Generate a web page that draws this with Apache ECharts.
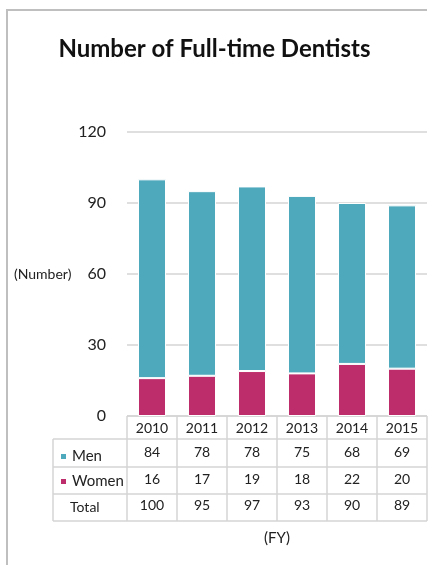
<!DOCTYPE html>
<html>
<head>
    <meta charset="utf-8">
    <title>Number of Full-time Dentists</title>
    <script src="https://cdn.jsdelivr.net/npm/echarts@6/dist/echarts.min.js"></script>
    <style type="text/css">
        html, body { margin: 0; padding: 0; background: #fff; overflow: hidden; }
        #main { width: 429px; height: 565px; }
    </style>
</head>
<body>
    <div id="main"></div>

    <script type="text/javascript">
        var years = ['2010', '2011', '2012', '2013', '2014', '2015'];
        var men = [84, 78, 78, 75, 68, 69];
        var women = [16, 17, 19, 18, 22, 20];
        var totals = [100, 95, 97, 93, 90, 89];
        var yTicks = [0, 30, 60, 90, 120];

        var font = 'Lato, "Open Sans", sans-serif';
        var lineColor = '#d4d4d4';

        var chart = echarts.init(document.getElementById('main'));

        // one row of the data table, drawn as an extra category axis under the grid
        function tableRow(values, offset) {
            return {
                type: 'category',
                data: values.map(String),
                position: 'bottom',
                offset: offset,
                axisLine: { show: false },
                axisTick: { show: false },
                splitLine: { show: false },
                axisLabel: { margin: 5, fontSize: 14, color: '#222', fontFamily: font }
            };
        }

        function line(x1, y1, x2, y2, color, w) {
            return { type: 'line', silent: true, shape: { x1: x1, y1: y1, x2: x2, y2: y2 }, style: { stroke: color, lineWidth: w } };
        }

        // table borders
        var tableLines = [];
        [439, 467, 494, 521].forEach(function (y) {
            tableLines.push(line(53, y, 427, y, lineColor, 1.5));
        });
        tableLines.push(line(127, 416, 427, 416, lineColor, 1.5));
        for (var i = 0; i <= years.length; i++) {
            var x = 127 + i * 50;
            tableLines.push(line(x, 416, x, 521, lineColor, 1.5));
        }
        tableLines.push(line(53, 439, 53, 521, lineColor, 1.5));

        var option = {
            animation: false,
            title: {
                text: 'Number of Full-time Dentists',
                left: 'center',
                top: 32,
                textStyle: { fontSize: 24, fontWeight: 'bold', color: '#111', fontFamily: font }
            },
            legend: {
                data: ['Men', 'Women'],
                orient: 'vertical',
                left: 54,
                top: 444,
                itemWidth: 7,
                itemHeight: 7,
                itemGap: 10,
                icon: 'rect',
                textStyle: { fontSize: 15, color: '#222', fontFamily: font }
            },
            grid: { left: 127, right: 2, top: 132, bottom: 149 },
            xAxis: [
                {
                    type: 'category',
                    data: years,
                    axisLine: { show: false },
                    axisTick: { show: false },
                    splitLine: { show: false },
                    axisLabel: { margin: 5, fontSize: 14, color: '#222', fontFamily: font }
                },
                tableRow(men, 24),
                tableRow(women, 51),
                tableRow(totals, 77)
            ],
            yAxis: {
                type: 'value',
                min: yTicks[0],
                max: yTicks[yTicks.length - 1],
                interval: 30,
                axisLine: { show: false },
                axisTick: { show: false },
                axisLabel: { margin: 21, fontSize: 16, color: '#222', fontFamily: font },
                splitLine: { lineStyle: { color: lineColor, width: 1.5 } }
            },
            series: [
                {
                    name: 'Women',
                    type: 'bar',
                    stack: 'all',
                    barWidth: 28,
                    data: women,
                    itemStyle: { color: '#BE2D6B', borderColor: '#fff', borderWidth: 1 }
                },
                {
                    name: 'Men',
                    type: 'bar',
                    stack: 'all',
                    barWidth: 28,
                    data: men,
                    itemStyle: { color: '#4FA9BD', borderColor: '#fff', borderWidth: 1 }
                }
            ],
            graphic: [
                { type: 'rect', silent: true, shape: { x: 6, y: 9, width: 421, height: 2 }, style: { fill: '#bfbfbf' } },
                { type: 'rect', silent: true, shape: { x: 6, y: 9, width: 2, height: 556 }, style: { fill: '#bfbfbf' } },
                {
                    type: 'text', x: 14, y: 274,
                    style: { text: '(Number)', font: '14px ' + font, fill: '#222', verticalAlign: 'middle' }
                },
                {
                    type: 'text', x: 70, y: 507,
                    style: { text: 'Total', font: '14px ' + font, fill: '#222', verticalAlign: 'middle' }
                },
                {
                    type: 'text', x: 277, y: 538,
                    style: { text: '(FY)', font: '15px ' + font, fill: '#222', align: 'center', verticalAlign: 'middle' }
                }
            ].concat(tableLines)
        };

        chart.setOption(option);
    </script>
</body>
</html>
